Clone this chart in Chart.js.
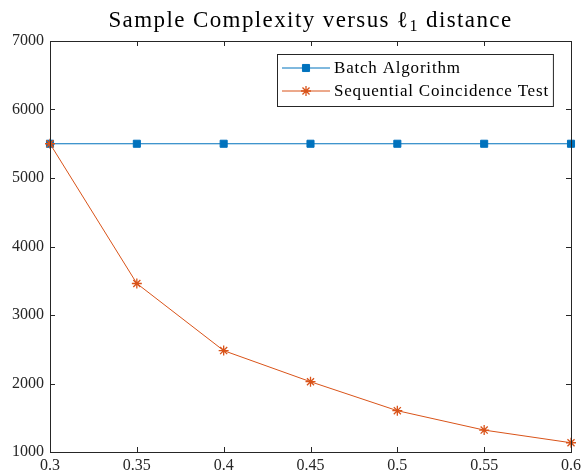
<!DOCTYPE html>
<html>
<head>
<meta charset="utf-8">
<script src="https://cdn.jsdelivr.net/npm/chart.js@4"></script>
<style>
  html, body { margin: 0; padding: 0; background: #fff; }
  #wrap { width: 581px; height: 474px; }
</style>
</head>
<body>
<div id="wrap"><canvas id="grafico"></canvas></div>
<script>
// datos
const distancias = [0.3, 0.35, 0.4, 0.45, 0.5, 0.55, 0.6];
const batchValores = [5500, 5500, 5500, 5500, 5500, 5500, 5500];
const secuencialValores = [5500, 3460, 2480, 2026, 1603, 1320, 1135];
const nombresSeries = ['Batch Algorithm', 'Sequential Coincidence Test'];
const tituloPartes = ['Sample Complexity versus \u2113', '1', ' distance'];

const FUENTE = '"Liberation Serif", "DejaVu Serif", serif';
const EJE = '#262626';

const aPuntos = (vals) => vals.map((y, i) => ({ x: distancias[i], y }));

// marco, ticks hacia adentro, titulo y leyenda al estilo matlab
const estiloMatlab = {
  id: 'estiloMatlab',
  afterDraw(chart) {
    const { ctx, chartArea: a, scales } = chart;
    ctx.save();
    ctx.strokeStyle = EJE;
    ctx.lineWidth = 1;
    ctx.strokeRect(a.left + 0.5, a.top + 0.5, a.right - a.left, a.bottom - a.top);
    const largo = 5;
    ctx.beginPath();
    scales.x.ticks.forEach((t) => {
      const px = Math.round(scales.x.getPixelForValue(t.value)) + 0.5;
      ctx.moveTo(px, a.bottom); ctx.lineTo(px, a.bottom - largo);
      ctx.moveTo(px, a.top); ctx.lineTo(px, a.top + largo);
    });
    scales.y.ticks.forEach((t) => {
      const py = Math.round(scales.y.getPixelForValue(t.value)) + 0.5;
      ctx.moveTo(a.left, py); ctx.lineTo(a.left + largo, py);
      ctx.moveTo(a.right, py); ctx.lineTo(a.right - largo, py);
    });
    ctx.stroke();

    // titulo con subindice
    ctx.fillStyle = '#000';
    ctx.textBaseline = 'alphabetic';
    ctx.textAlign = 'left';
    ctx.letterSpacing = '1.4px';
    const fTit = '23px ' + FUENTE;
    const fSub = '16px ' + FUENTE;
    ctx.font = fTit;
    const w0 = ctx.measureText(tituloPartes[0]).width;
    const w2 = ctx.measureText(tituloPartes[2]).width;
    ctx.font = fSub;
    const w1 = ctx.measureText(tituloPartes[1]).width;
    let x = (a.left + a.right) / 2 - (w0 + w1 + w2) / 2;
    const base = 27;
    ctx.font = fTit;
    ctx.fillText(tituloPartes[0], x, base); x += w0;
    ctx.font = fSub;
    ctx.fillText(tituloPartes[1], x, base + 4); x += w1;
    ctx.font = fTit;
    ctx.fillText(tituloPartes[2], x, base);

    // leyenda
    ctx.letterSpacing = '0.8px';
    ctx.font = '17px ' + FUENTE;
    const anchoTexto = Math.max(...nombresSeries.map((n) => ctx.measureText(n).width));
    const lineaLargo = 48;
    const w = 5 + lineaLargo + 4 + anchoTexto + 4;
    const h = 52;
    const x0 = Math.round(a.right - 18 - w);
    const y0 = Math.round(a.top + 13);
    ctx.fillStyle = '#fff';
    ctx.fillRect(x0, y0, w, h);
    ctx.strokeStyle = EJE;
    ctx.strokeRect(x0 + 0.5, y0 + 0.5, w, h);
    chart.data.datasets.forEach((ds, i) => {
      const yy = y0 + 14 + i * 23;
      ctx.strokeStyle = ds.borderColor;
      ctx.lineWidth = 1;
      ctx.beginPath();
      ctx.moveTo(x0 + 5, yy); ctx.lineTo(x0 + 5 + lineaLargo, yy);
      ctx.stroke();
      ctx.fillStyle = ds.pointBackgroundColor;
      ctx.strokeStyle = ds.borderColor;
      ctx.lineWidth = ds.pointBorderWidth;
      Chart.helpers.drawPoint(ctx, {
        pointStyle: ds.pointStyle, radius: ds.pointRadius, borderWidth: ds.pointBorderWidth
      }, x0 + 5 + lineaLargo / 2, yy);
      ctx.fillStyle = '#000';
      ctx.textBaseline = 'middle';
      ctx.fillText(nombresSeries[i], x0 + 5 + lineaLargo + 4, yy + 1);
    });
    ctx.restore();
  }
};

new Chart(document.getElementById('grafico'), {
  type: 'line',
  data: {
    datasets: [
      {
        label: nombresSeries[0],
        data: aPuntos(batchValores),
        borderColor: '#0072BD',
        backgroundColor: '#0072BD',
        pointBackgroundColor: '#0072BD',
        pointBorderColor: '#0072BD',
        pointStyle: 'rect',
        pointRadius: 5,
        pointBorderWidth: 1,
        borderWidth: 1,
        order: 1,
        clip: false,
      },
      {
        label: nombresSeries[1],
        data: aPuntos(secuencialValores),
        borderColor: '#D95319',
        backgroundColor: '#D95319',
        pointBackgroundColor: '#D95319',
        pointBorderColor: '#D95319',
        pointStyle: 'star',
        pointRadius: 5,
        pointBorderWidth: 1.3,
        borderWidth: 1,
        order: 0,
        clip: false,
      },
    ],
  },
  options: {
    responsive: true,
    maintainAspectRatio: false,
    animation: false,
    layout: { padding: { top: 41, right: 10, left: 0, bottom: 0 } },
    plugins: { legend: { display: false }, tooltip: { enabled: false } },
    scales: {
      x: {
        type: 'linear',
        min: 0.3,
        max: 0.6,
        afterFit: (s) => { s.height = 22; s.paddingLeft = 0; s.paddingRight = 0; },
        afterBuildTicks: (s) => { s.ticks = distancias.map((v) => ({ value: v })); },
        grid: { display: false, drawTicks: false },
        border: { display: false },
        ticks: {
          color: EJE,
          padding: 4,
          maxRotation: 0,
          font: { family: FUENTE, size: 16 },
          callback: (v) => String(+v.toFixed(2)),
        },
      },
      y: {
        min: 1000,
        max: 7000,
        afterFit: (s) => { s.width = 50; s.paddingTop = 0; s.paddingBottom = 0; },
        grid: { display: false, drawTicks: false },
        border: { display: false },
        ticks: {
          color: EJE,
          stepSize: 1000,
          padding: 6,
          font: { family: FUENTE, size: 16 },
          callback: (v) => String(v),
        },
      },
    },
  },
  plugins: [estiloMatlab],
});
</script>
</body>
</html>
